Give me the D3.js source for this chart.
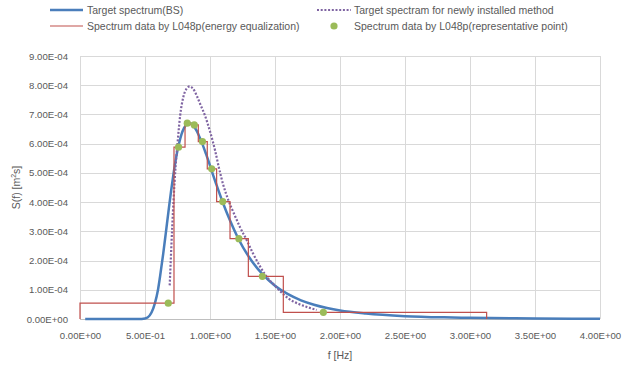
<!DOCTYPE html>
<html>
<head>
<meta charset="utf-8">
<script src="https://cdn.jsdelivr.net/npm/d3@7"></script>
<style>
  body { margin: 0; background: #fff; }
  text { font-family: "Liberation Sans", Arial, sans-serif; fill: #595959; }
</style>
</head>
<body>
<svg id="chart" width="622" height="369"></svg>
<script>
// Axis ticks
const xTicks = [0, 0.5, 1.0, 1.5, 2.0, 2.5, 3.0, 3.5, 4.0];
const yTicks = [0, 1e-4, 2e-4, 3e-4, 4e-4, 5e-4, 6e-4, 7e-4, 8e-4, 9e-4];

// Target spectrum (BS)
const bsFreq = [0.04, 0.30, 0.45, 0.50, 0.52, 0.55, 0.577, 0.60, 0.615, 0.64, 0.66, 0.68, 0.70, 0.72, 0.74, 0.76,
  0.78, 0.80, 0.82, 0.84, 0.86, 0.88, 0.90, 0.92, 0.944, 0.97, 1.00, 1.013, 1.05, 1.10, 1.15, 1.22, 1.30,
  1.40, 1.50, 1.60, 1.70, 1.80, 1.90, 2.00, 2.20, 2.50, 2.80, 3.00, 3.50, 4.00];
const bsValue = [0, 0, 0, 0.02e-4, 0.05e-4, 0.22e-4, 0.55e-4, 1.00e-4, 1.43e-4, 2.23e-4, 2.94e-4, 3.66e-4, 4.36e-4, 4.99e-4, 5.54e-4, 5.97e-4,
  6.31e-4, 6.53e-4, 6.66e-4, 6.70e-4, 6.67e-4, 6.56e-4, 6.42e-4, 6.22e-4, 5.96e-4, 5.64e-4, 5.25e-4, 5.07e-4, 4.59e-4, 3.97e-4, 3.41e-4, 2.73e-4, 2.12e-4,
  1.55e-4, 1.14e-4, 0.85e-4, 0.64e-4, 0.49e-4, 0.377e-4, 0.29e-4, 0.185e-4, 0.098e-4, 0.056e-4, 0.040e-4, 0.019e-4, 0.0095e-4];

// Target spectrum for the newly installed method
const newFreq = [0.69, 0.70, 0.71, 0.72, 0.735, 0.75, 0.77, 0.795, 0.82, 0.845, 0.87, 0.90, 0.925, 0.96, 1.00, 1.04,
  1.07, 1.10, 1.14, 1.19, 1.23, 1.28, 1.33, 1.385, 1.43, 1.49, 1.54, 1.61, 1.68, 1.74, 1.82];
const newValue = [1.15e-4, 2.2e-4, 3.2e-4, 4.1e-4, 5.2e-4, 6.0e-4, 6.95e-4, 7.6e-4, 7.88e-4, 7.96e-4, 7.88e-4, 7.62e-4, 7.35e-4, 6.98e-4, 6.42e-4, 5.75e-4,
  5.15e-4, 4.62e-4, 4.08e-4, 3.55e-4, 3.15e-4, 2.72e-4, 2.25e-4, 1.80e-4, 1.48e-4, 1.18e-4, 0.95e-4, 0.68e-4, 0.52e-4, 0.42e-4, 0.31e-4];

// L048p energy-equalization bands: edges and constant level per band
const bandEdges = [0, 0.723, 0.808, 0.854, 0.910, 0.979, 1.051, 1.154, 1.295, 1.564, 3.128];
const bandValues = [0.54e-4, 5.88e-4, 6.70e-4, 6.64e-4, 6.07e-4, 5.14e-4, 4.02e-4, 2.75e-4, 1.46e-4, 0.23e-4];

// L048p representative points
const repFreq = [0.679, 0.758, 0.825, 0.879, 0.942, 1.013, 1.098, 1.222, 1.403, 1.872];
const repValue = [0.54e-4, 5.88e-4, 6.70e-4, 6.64e-4, 6.07e-4, 5.14e-4, 4.02e-4, 2.75e-4, 1.46e-4, 0.23e-4];

const COLORS = { bs: "#4a7ebb", neu: "#7f64a2", band: "#c0504d", rep: "#9bbb59" };

const svg = d3.select("#chart");
const plotL = 80, plotR = 600, plotT = 56, plotB = 319;
const x = d3.scaleLinear().domain([0, 4]).range([plotL, plotR]);
const y = d3.scaleLinear().domain([0, 9e-4]).range([plotB, plotT]);

// Excel-style 0.00E+00 label format
const sci = v => {
  const [m, e] = v.toExponential(2).split("e");
  return m + "E" + e[0] + e.slice(1).padStart(2, "0");
};

// Grid
const gx = svg.append("g").attr("transform", `translate(0,${plotB})`)
  .call(d3.axisBottom(x).tickValues(xTicks).tickSize(-(plotB - plotT)).tickFormat(""));
const gy = svg.append("g").attr("transform", `translate(${plotL},0)`)
  .call(d3.axisLeft(y).tickValues(yTicks).tickSize(-(plotR - plotL)).tickFormat(""));
[gx, gy].forEach(g => {
  g.select(".domain").remove();
  g.selectAll(".tick line").attr("stroke", "#d9d9d9").attr("shape-rendering", "crispEdges");
});
svg.append("line").attr("x1", plotL).attr("x2", plotR).attr("y1", plotB).attr("y2", plotB)
  .attr("stroke", "#bfbfbf").attr("shape-rendering", "crispEdges");

// Tick labels
const xa = svg.append("g").attr("transform", `translate(0,${plotB})`)
  .call(d3.axisBottom(x).tickValues(xTicks).tickSize(0).tickPadding(13).tickFormat(sci));
const ya = svg.append("g").attr("transform", `translate(${plotL},0)`)
  .call(d3.axisLeft(y).tickValues(yTicks).tickSize(0).tickPadding(12).tickFormat(sci));
[xa, ya].forEach(g => {
  g.select(".domain").remove();
  g.selectAll("text").attr("font-size", 9.6).attr("fill", "#595959")
    .style("font-family", '"Liberation Sans", Arial, sans-serif');
});

// Axis titles
svg.append("text").attr("x", (plotL + plotR) / 2).attr("y", 359).attr("text-anchor", "middle")
  .attr("font-size", 10.5).text("f [Hz]");
const yt = svg.append("text").attr("transform", `translate(20,${(plotT + plotB) / 2}) rotate(-90)`)
  .attr("text-anchor", "middle").attr("font-size", 10.5);
yt.append("tspan").text("S(f) [m");
yt.append("tspan").attr("font-size", 7).attr("dy", -4).text("2");
yt.append("tspan").attr("dy", 4).text("s]");

// Series
const line = d3.line().x(d => x(d[0])).y(d => y(d[1]));

svg.append("path")
  .datum(bsFreq.map((f, i) => [f, bsValue[i]]))
  .attr("d", line.curve(d3.curveMonotoneX))
  .attr("fill", "none").attr("stroke", COLORS.bs).attr("stroke-width", 2.5);

svg.append("path")
  .datum(newFreq.map((f, i) => [f, newValue[i]]))
  .attr("d", line.curve(d3.curveMonotoneX))
  .attr("fill", "none").attr("stroke", COLORS.neu).attr("stroke-width", 2.2)
  .attr("stroke-dasharray", "2 1.7");

// Step outline of the energy-equalization bands
const stepPts = [[bandEdges[0], 0]];
bandValues.forEach((v, i) => {
  stepPts.push([bandEdges[i], v]);
  stepPts.push([bandEdges[i + 1], v]);
});
stepPts.push([bandEdges[bandEdges.length - 1], 0]);
svg.append("path")
  .datum(stepPts)
  .attr("d", line.curve(d3.curveLinear))
  .attr("fill", "none").attr("stroke", COLORS.band).attr("stroke-width", 1.2);

svg.append("g").selectAll("circle")
  .data(repFreq.map((f, i) => [f, repValue[i]]))
  .join("circle")
  .attr("cx", d => x(d[0])).attr("cy", d => y(d[1])).attr("r", 3.6)
  .attr("fill", COLORS.rep);

// Legend
const lg = svg.append("g").attr("font-size", 10.5);
const row1 = 10, row2 = 26;
lg.append("line").attr("x1", 50).attr("x2", 83).attr("y1", row1).attr("y2", row1)
  .attr("stroke", COLORS.bs).attr("stroke-width", 2.5);
lg.append("text").attr("x", 87).attr("y", row1).attr("dy", "0.35em").text("Target spectrum(BS)");
lg.append("line").attr("x1", 317).attr("x2", 351).attr("y1", row1).attr("y2", row1)
  .attr("stroke", COLORS.neu).attr("stroke-width", 2.2).attr("stroke-dasharray", "2 1.7");
lg.append("text").attr("x", 354).attr("y", row1).attr("dy", "0.35em").text("Target spectram for newly installed method");
lg.append("line").attr("x1", 50).attr("x2", 83).attr("y1", row2).attr("y2", row2)
  .attr("stroke", COLORS.band).attr("stroke-width", 1.2);
lg.append("text").attr("x", 87).attr("y", row2).attr("dy", "0.35em").text("Spectrum data by L048p(energy equalization)");
lg.append("circle").attr("cx", 334).attr("cy", row2).attr("r", 3.6).attr("fill", COLORS.rep);
lg.append("text").attr("x", 354).attr("y", row2).attr("dy", "0.35em").text("Spectrum data by L048p(representative point)");
</script>
</body>
</html>
